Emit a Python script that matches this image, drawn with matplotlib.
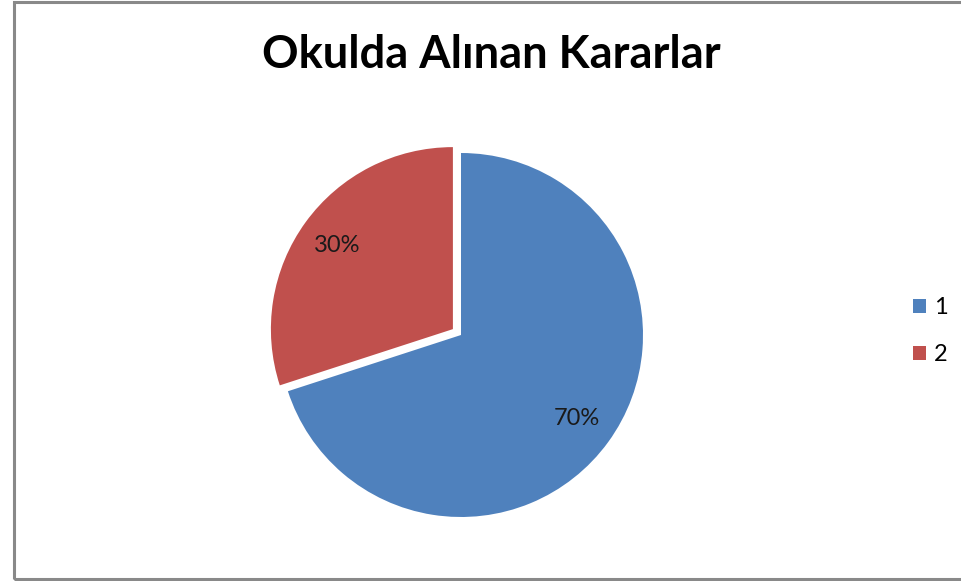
import matplotlib
matplotlib.use('Agg')
from matplotlib import pyplot as plt
from matplotlib.patches import Rectangle

# Data
categories = ['1', '2']
shares = [70, 30]
colors = ['#4F81BD', '#C0504D']
title = 'Okulda Alınan Kararlar'

plt.rcParams['font.family'] = ['Lato', 'DejaVu Sans']

W, H = 961, 581
fig = plt.figure(figsize=(W / 100, H / 100), dpi=100)

# Outer chart border (gray frame, right edge clipped like the original)
fig.patches.append(Rectangle((14 / W, 2 / H), (W + 20) / W, (H - 4) / H,
                             transform=fig.transFigure, fill=False,
                             edgecolor='#898989', linewidth=2.2))

# Pie axes: centre at (461, 335) px, radius 182 px
cx, cy, r = 461, 335, 182
lim = 1.25
size = 2 * r * lim
ax = fig.add_axes([(cx - size / 2) / W, (H - cy - size / 2) / H, size / W, size / H])
wedges, texts, autotexts = ax.pie(
    shares, colors=colors, startangle=90, counterclock=False,
    explode=[0, 0.055], autopct='%d%%', pctdistance=0.785,
    wedgeprops=dict(linewidth=0),
    textprops=dict(fontsize=17, color='#1a1a1a'))
ax.set_xlim(-lim, lim)
ax.set_ylim(-lim, lim)
ax.set_aspect('equal')
ax.axis('off')

fig.text(491 / W, 1 - 55 / H, title, ha='center', va='center',
         fontsize=32.5, fontweight='bold', color='black')

leg = fig.legend(wedges, categories, loc='center left',
                 bbox_to_anchor=(913 / W, 1 - 331 / H), frameon=False,
                 fontsize=17, handlelength=0.55, handleheight=0.55,
                 handletextpad=0.35, labelspacing=1.1,
                 borderpad=0, borderaxespad=0)

fig.savefig('out.png', dpi=100)
